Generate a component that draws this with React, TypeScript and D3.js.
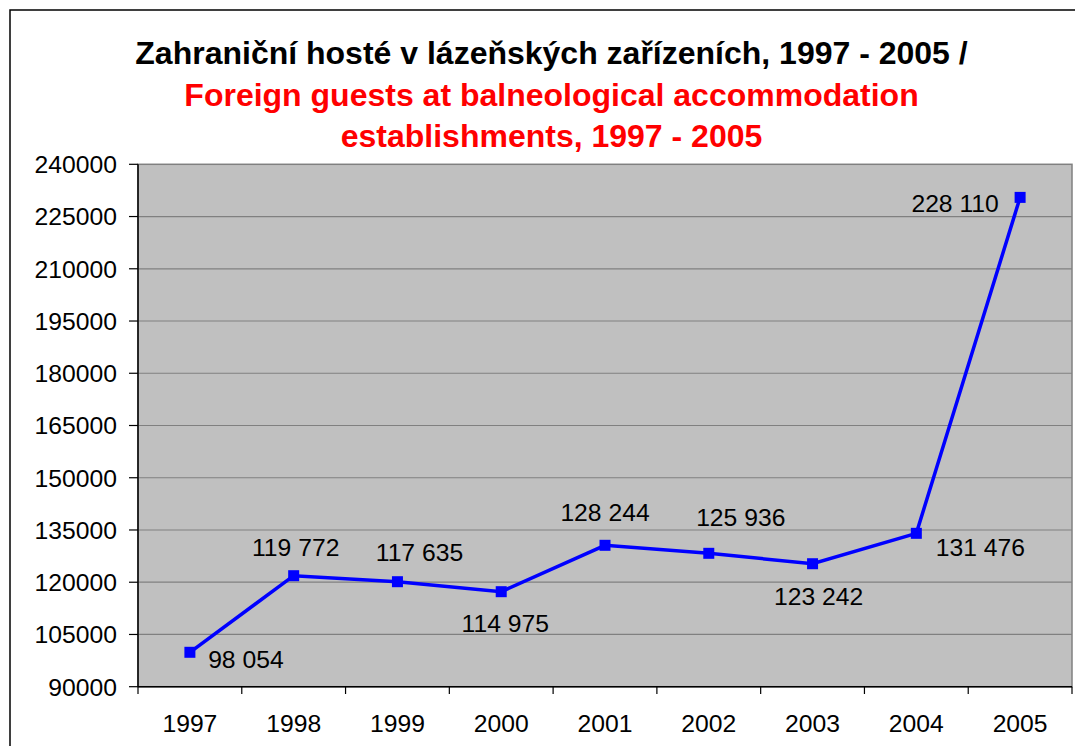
import React from "react";
import * as d3 from "d3";

const years = ["1997", "1998", "1999", "2000", "2001", "2002", "2003", "2004", "2005"];
// plotted positions
const values = [99880, 121870, 120150, 117280, 130600, 128300, 125310, 134040, 230500];
// data label texts as printed
const labels = ["98 054", "119 772", "117 635", "114 975", "128 244", "125 936", "123 242", "131 476", "228 110"];
const yTicks = [90000, 105000, 120000, 135000, 150000, 165000, 180000, 195000, 210000, 225000, 240000];
const titleLines = [
  "Zahraniční hosté v lázeňských zařízeních, 1997 - 2005 /",
  "Foreign guests at balneological accommodation",
  "establishments, 1997 - 2005",
];

// label placement (layout): [dx of centre, dy of baseline] relative to point
const labelOffsets: [number, number][] = [
  [56, 16], [2, -20], [22, -21], [4, 40], [0, -24], [32, -27], [6, 41], [64, 23], [-65, 15],
];

const W = 1075, H = 746;
const L = 138, R = 1072, T = 164.3, B = 686.7;
const font = "'Liberation Sans', Arial, sans-serif";

export default function App() {
  const x = d3.scaleBand<string>().domain(years).range([L, R]);
  const y = d3.scaleLinear().domain([90000, 240000]).range([B, T]);
  const cx = (i: number) => (x(years[i]) as number) + x.bandwidth() / 2;
  const line = d3.line<number>().x((_, i) => cx(i)).y((v) => y(v));
  const boundaries = d3.range(years.length + 1).map((i) => L + i * x.bandwidth());
  const fs = 24.7;
  return (
    <svg width={W} height={H} style={{ position: "absolute", left: 0, top: 0, background: "#fff" }} fontFamily={font}>
      <rect x={10} y={10} width={W + 20} height={H + 20} fill="#fff" stroke="#000" strokeWidth={1.5} />
      {titleLines.map((t, i) => (
        <text key={i} x={551.5} y={64.3 + i * 41.3} textAnchor="middle" fontSize={32} fontWeight="bold" fill={i === 0 ? "#000" : "#ff0000"}>
          {t}
        </text>
      ))}
      <rect x={L} y={T} width={R - L} height={B - T} fill="#c0c0c0" stroke="#808080" strokeWidth={1.5} />
      {yTicks.slice(1, -1).map((t) => (
        <line key={t} x1={L} x2={R} y1={y(t)} y2={y(t)} stroke="#808080" strokeWidth={1.2} />
      ))}
      <line x1={L} x2={L} y1={T} y2={B} stroke="#000" strokeWidth={1.5} />
      <line x1={L} x2={R} y1={B} y2={B} stroke="#000" strokeWidth={1.5} />
      {yTicks.map((t) => (
        <g key={t}>
          <line x1={129} x2={L} y1={y(t)} y2={y(t)} stroke="#000" strokeWidth={1.2} />
          <text x={117} y={y(t)} dy="0.36em" textAnchor="end" fontSize={fs} fill="#000">{t}</text>
        </g>
      ))}
      {boundaries.map((b, i) => (
        <line key={i} x1={b} x2={b} y1={B} y2={694} stroke="#000" strokeWidth={1.2} />
      ))}
      {years.map((yr, i) => (
        <text key={yr} x={cx(i)} y={731.7} textAnchor="middle" fontSize={fs} fill="#000">{yr}</text>
      ))}
      <path d={line(values) || ""} fill="none" stroke="#0000ff" strokeWidth={3.5} />
      {values.map((v, i) => (
        <rect key={i} x={cx(i) - 5.5} y={y(v) - 5.5} width={11} height={11} fill="#0000ff" />
      ))}
      {labels.map((lb, i) => (
        <text key={lb} x={cx(i) + labelOffsets[i][0]} y={y(values[i]) + labelOffsets[i][1]} textAnchor="middle" fontSize={fs} fill="#000">
          {lb}
        </text>
      ))}
    </svg>
  );
}
